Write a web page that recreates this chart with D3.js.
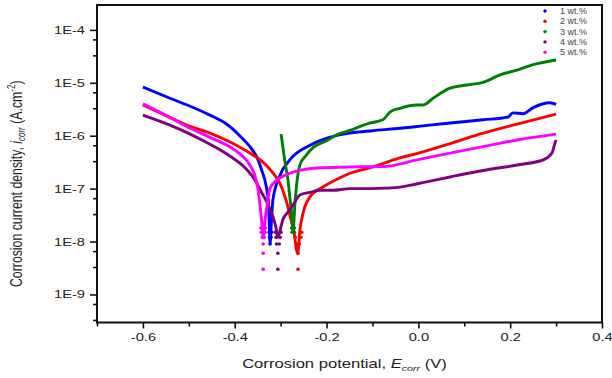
<!DOCTYPE html>
<html>
<head>
<meta charset="utf-8">
<script src="https://cdn.jsdelivr.net/npm/d3@7"></script>
<style>
  body { margin: 0; background: #fff; }
  svg { font-family: "Liberation Sans", Arial, sans-serif; }
</style>
</head>
<body>
<script>
// Data: [potential (V), current density (A/cm2)]

const wt1 = [[-0.600, 8.3e-6], [-0.541, 5.1e-6], [-0.497, 3.6e-6], [-0.454, 2.45e-6], [-0.421, 1.74e-6],
  [-0.388, 9.8e-7], [-0.367, 6.2e-7], [-0.351, 3.8e-7], [-0.341, 2.2e-7], [-0.332, 1.17e-7], [-0.327, 6.0e-8],
  [-0.325, 2.5e-8], [-0.323, 9e-9], [-0.320, 2.5e-8], [-0.317, 6.0e-8], [-0.303, 1.66e-7], [-0.280, 3.5e-7],
  [-0.236, 6.6e-7], [-0.180, 1.0e-6], [-0.105, 1.23e-6], [-0.040, 1.38e-6], [0.000, 1.5e-6], [0.069, 1.74e-6],
  [0.141, 2.0e-6], [0.195, 2.25e-6], [0.206, 2.7e-6], [0.228, 2.6e-6], [0.250, 3.4e-6], [0.287, 4.2e-6],
  [0.300, 3.9e-6]];

const wt2 = [[-0.600, 3.8e-6], [-0.547, 2.35e-6], [-0.497, 1.5e-6], [-0.454, 1.12e-6], [-0.410, 7.6e-7],
  [-0.367, 4.7e-7], [-0.341, 3.3e-7], [-0.319, 2.1e-7], [-0.301, 1.23e-7], [-0.288, 6.0e-8], [-0.280, 3.2e-8],
  [-0.271, 1.5e-8], [-0.263, 6e-9], [-0.258, 1.66e-8], [-0.251, 3.5e-8], [-0.236, 7.0e-8], [-0.208, 1.07e-7],
  [-0.171, 1.6e-7], [-0.149, 1.95e-7], [-0.105, 2.5e-7], [-0.040, 3.8e-7], [0.000, 4.7e-7], [0.069, 7.1e-7],
  [0.141, 1.12e-6], [0.215, 1.66e-6], [0.300, 2.55e-6]];

const wt3 = [[-0.299, 1.07e-6], [-0.290, 3.0e-7], [-0.284, 1.45e-7], [-0.280, 6.9e-8], [-0.275, 2.6e-8],
  [-0.273, 1.5e-8], [-0.269, 5.0e-8], [-0.264, 1.45e-7], [-0.258, 2.8e-7], [-0.245, 4.2e-7], [-0.229, 6.0e-7],
  [-0.200, 8.0e-7], [-0.177, 1.05e-6], [-0.149, 1.26e-6], [-0.105, 1.74e-6], [-0.077, 2.0e-6], [-0.062, 2.8e-6],
  [-0.040, 3.3e-6], [-0.003, 3.8e-6], [0.010, 3.8e-6], [0.032, 5.1e-6], [0.069, 7.9e-6], [0.106, 9.1e-6],
  [0.141, 1.02e-5], [0.178, 1.41e-5], [0.215, 1.74e-5], [0.250, 2.2e-5], [0.300, 2.7e-5]];

const wt4 = [[-0.600, 2.45e-6], [-0.541, 1.58e-6], [-0.497, 1.07e-6], [-0.454, 6.9e-7], [-0.410, 4.1e-7],
  [-0.378, 2.5e-7], [-0.356, 1.45e-7], [-0.341, 8.3e-8], [-0.327, 4.9e-8], [-0.317, 3.0e-8], [-0.310, 1.8e-8],
  [-0.306, 1.2e-8], [-0.300, 1.8e-8], [-0.295, 2.6e-8], [-0.284, 3.6e-8], [-0.273, 4.9e-8], [-0.258, 7.6e-8],
  [-0.236, 8.5e-8], [-0.214, 9.3e-8], [-0.186, 9.3e-8], [-0.149, 1.0e-7], [-0.105, 1.0e-7], [-0.070, 1.02e-7],
  [-0.040, 1.07e-7], [-0.020, 1.15e-7], [0.010, 1.3e-7], [0.069, 1.66e-7], [0.141, 2.2e-7], [0.215, 2.8e-7],
  [0.272, 3.5e-7], [0.291, 4.7e-7], [0.297, 7.0e-7], [0.300, 8.3e-7]];

const wt5 = [[-0.600, 4.0e-6], [-0.547, 2.35e-6], [-0.497, 1.38e-6], [-0.454, 9.3e-7], [-0.410, 6.1e-7],
  [-0.384, 4.2e-7], [-0.367, 2.8e-7], [-0.356, 1.74e-7], [-0.349, 9.4e-8], [-0.345, 4.9e-8], [-0.341, 2.3e-8],
  [-0.338, 1.2e-8], [-0.334, 2.5e-8], [-0.330, 4.5e-8], [-0.323, 1.02e-7], [-0.308, 1.45e-7], [-0.280, 1.95e-7],
  [-0.221, 2.45e-7], [-0.149, 2.57e-7], [-0.077, 2.6e-7], [-0.003, 3.5e-7], [0.069, 4.7e-7], [0.141, 6.2e-7],
  [0.215, 8.3e-7], [0.300, 1.07e-6]];

// scattered points close to Ecorr (current steps of 3E-9)
const wt1Dots = [[-0.323, 9e-9], [-0.324, 1.2e-8], [-0.321, 1.2e-8], [-0.325, 1.5e-8], [-0.320, 1.5e-8]];
const wt2Dots = [[-0.262, 3e-9], [-0.262, 6e-9], [-0.265, 9e-9], [-0.259, 9e-9], [-0.268, 1.2e-8],
  [-0.256, 1.2e-8], [-0.270, 1.5e-8], [-0.254, 1.5e-8]];
const wt3Dots = [[-0.275, 1.5e-8], [-0.271, 1.5e-8], [-0.276, 1.8e-8], [-0.270, 1.8e-8]];
const wt4Dots = [[-0.306, 3e-9], [-0.306, 6e-9], [-0.309, 9e-9], [-0.303, 9e-9], [-0.310, 1.2e-8],
  [-0.301, 1.2e-8], [-0.312, 1.5e-8], [-0.299, 1.5e-8]];
const wt5Dots = [[-0.338, 3e-9], [-0.338, 6e-9], [-0.338, 9e-9], [-0.340, 1.2e-8], [-0.336, 1.2e-8],
  [-0.342, 1.5e-8], [-0.334, 1.5e-8], [-0.343, 1.8e-8], [-0.333, 1.8e-8]];

const seriesNames = ["1 wt.%", "2 wt.%", "3 wt.%", "4 wt.%", "5 wt.%"];
const seriesColors = ["#0000ff", "#ff0000", "#008000", "#800080", "#ff00ff"];
const seriesLines = [wt1, wt2, wt3, wt4, wt5];
const seriesDots = [wt1Dots, wt2Dots, wt3Dots, wt4Dots, wt5Dots];

const xTicks = [-0.6, -0.4, -0.2, 0.0, 0.2, 0.4];
const xMinorTicks = [-0.7, -0.5, -0.3, -0.1, 0.1, 0.3];
const yExponents = [-9, -8, -7, -6, -5, -4];
const yMinorFactors = [0.66, 0.33];

// Layout
const WIDTH = 612, HEIGHT = 378;
const LEFT = 97, RIGHT = 602, TOP = 5, BOTTOM = 322.5;
const STRETCH = 1.33;   // the picture is wider than tall, text comes out stretched

const svg = d3.select("body").append("svg")
  .attr("width", WIDTH)
  .attr("height", HEIGHT);

const x = d3.scaleLinear().domain([-0.7, 0.4]).range([LEFT, RIGHT]);
const y = d3.scaleLog().domain([Math.pow(10, -9.53), Math.pow(10, -3.53)]).range([BOTTOM, TOP]);

const yTicks = yExponents.map(e => Math.pow(10, e));
const yMinorTicks = yTicks.flatMap(t => yMinorFactors.map(f => t * f))
  .filter(v => v >= y.domain()[0] && v <= y.domain()[1]);

// ----- Curves -----
const plot = svg.append("g");
const line = d3.line()
  .x(d => x(d[0]))
  .y(d => y(d[1]))
  .curve(d3.curveMonotoneX);

seriesLines.forEach((data, i) => {
  plot.append("path")
    .datum(data)
    .attr("d", line)
    .attr("fill", "none")
    .attr("stroke", seriesColors[i])
    .attr("stroke-width", 2.9)
    .attr("stroke-linejoin", "round");

  plot.selectAll(null)
    .data(seriesDots[i])
    .enter()
    .append("circle")
      .attr("cx", d => x(d[0]))
      .attr("cy", d => y(d[1]))
      .attr("r", 1.8)
      .attr("fill", seriesColors[i]);
});

// ----- Axes -----
const xAxis = d3.axisBottom(x)
  .tickValues(xTicks)
  .tickSize(6)
  .tickPadding(5)
  .tickFormat(d => d3.format(".1f")(d).replace("\u2212", "-"));
const xMinor = d3.axisBottom(x).tickValues(xMinorTicks).tickSize(4).tickFormat("");

const yAxis = d3.axisLeft(y)
  .tickValues(yTicks)
  .tickSize(7)
  .tickPadding(5)
  .tickFormat(d => "1E" + Math.round(Math.log10(d)));
const yMinor = d3.axisLeft(y).tickValues(yMinorTicks).tickSize(4).tickFormat("");

function styleAxis(g) {
  g.select(".domain").remove();
  g.selectAll(".tick line").attr("stroke", "#111").attr("stroke-width", 1.6);
  g.selectAll(".tick text")
    .attr("fill", "#222")
    .style("font-size", "11px")
    .style("font-family", "'Liberation Sans', Arial, sans-serif")
    .each(function() {
      const t = d3.select(this);
      const x0 = +t.attr("x") || 0;
      t.attr("x", x0 / STRETCH).attr("transform", `scale(${STRETCH},1)`);
    });
}

svg.append("g").attr("transform", `translate(0,${BOTTOM})`).call(xAxis).call(styleAxis);
svg.append("g").attr("transform", `translate(0,${BOTTOM})`).call(xMinor).call(styleAxis);
svg.append("g").attr("transform", `translate(${LEFT},0)`).call(yAxis).call(styleAxis);
svg.append("g").attr("transform", `translate(${LEFT},0)`).call(yMinor).call(styleAxis);

// frame
svg.append("rect")
  .attr("x", LEFT)
  .attr("y", TOP)
  .attr("width", RIGHT - LEFT)
  .attr("height", BOTTOM - TOP)
  .attr("fill", "none")
  .attr("stroke", "#111")
  .attr("stroke-width", 2);

// ----- Axis titles -----
const xTitle = svg.append("text")
  .attr("transform", `translate(${(LEFT + RIGHT) / 2 - 5},368) scale(${STRETCH},1)`)
  .attr("text-anchor", "middle")
  .attr("fill", "#222")
  .style("font-size", "12.5px");
xTitle.append("tspan").text("Corrosion potential, ");
xTitle.append("tspan").style("font-style", "italic").text("E");
xTitle.append("tspan").attr("dy", 3).style("font-size", "8px").style("font-style", "italic").text("corr");
xTitle.append("tspan").attr("dy", -3).text(" (V)");

const yTitle = svg.append("text")
  .attr("transform", `translate(21.5,${(TOP + BOTTOM) / 2 + 20}) rotate(-90) scale(1,${STRETCH})`)
  .attr("text-anchor", "middle")
  .attr("fill", "#222")
  .style("font-size", "12.3px");
yTitle.append("tspan").text("Corrosion current density, ");
yTitle.append("tspan").style("font-style", "italic").text("i");
yTitle.append("tspan").attr("dy", 3).style("font-size", "8px").style("font-style", "italic").text("corr");
yTitle.append("tspan").attr("dy", -3).text(" (A.cm");
yTitle.append("tspan").attr("dy", -5).style("font-size", "8px").text("-2");
yTitle.append("tspan").attr("dy", 5).text(")");

// ----- Legend -----
const legend = svg.append("g").attr("transform", "translate(545,11)");
const items = legend.selectAll("g")
  .data(seriesNames)
  .enter()
  .append("g")
    .attr("transform", (d, i) => `translate(0,${i * 10.3})`);
items.append("circle")
  .attr("r", 1.7)
  .attr("fill", (d, i) => seriesColors[i]);
items.append("text")
  .attr("x", 15)
  .attr("dy", "0.35em")
  .attr("fill", "#444")
  .style("font-size", "9px")
  .text(d => d);
</script>
</body>
</html>
